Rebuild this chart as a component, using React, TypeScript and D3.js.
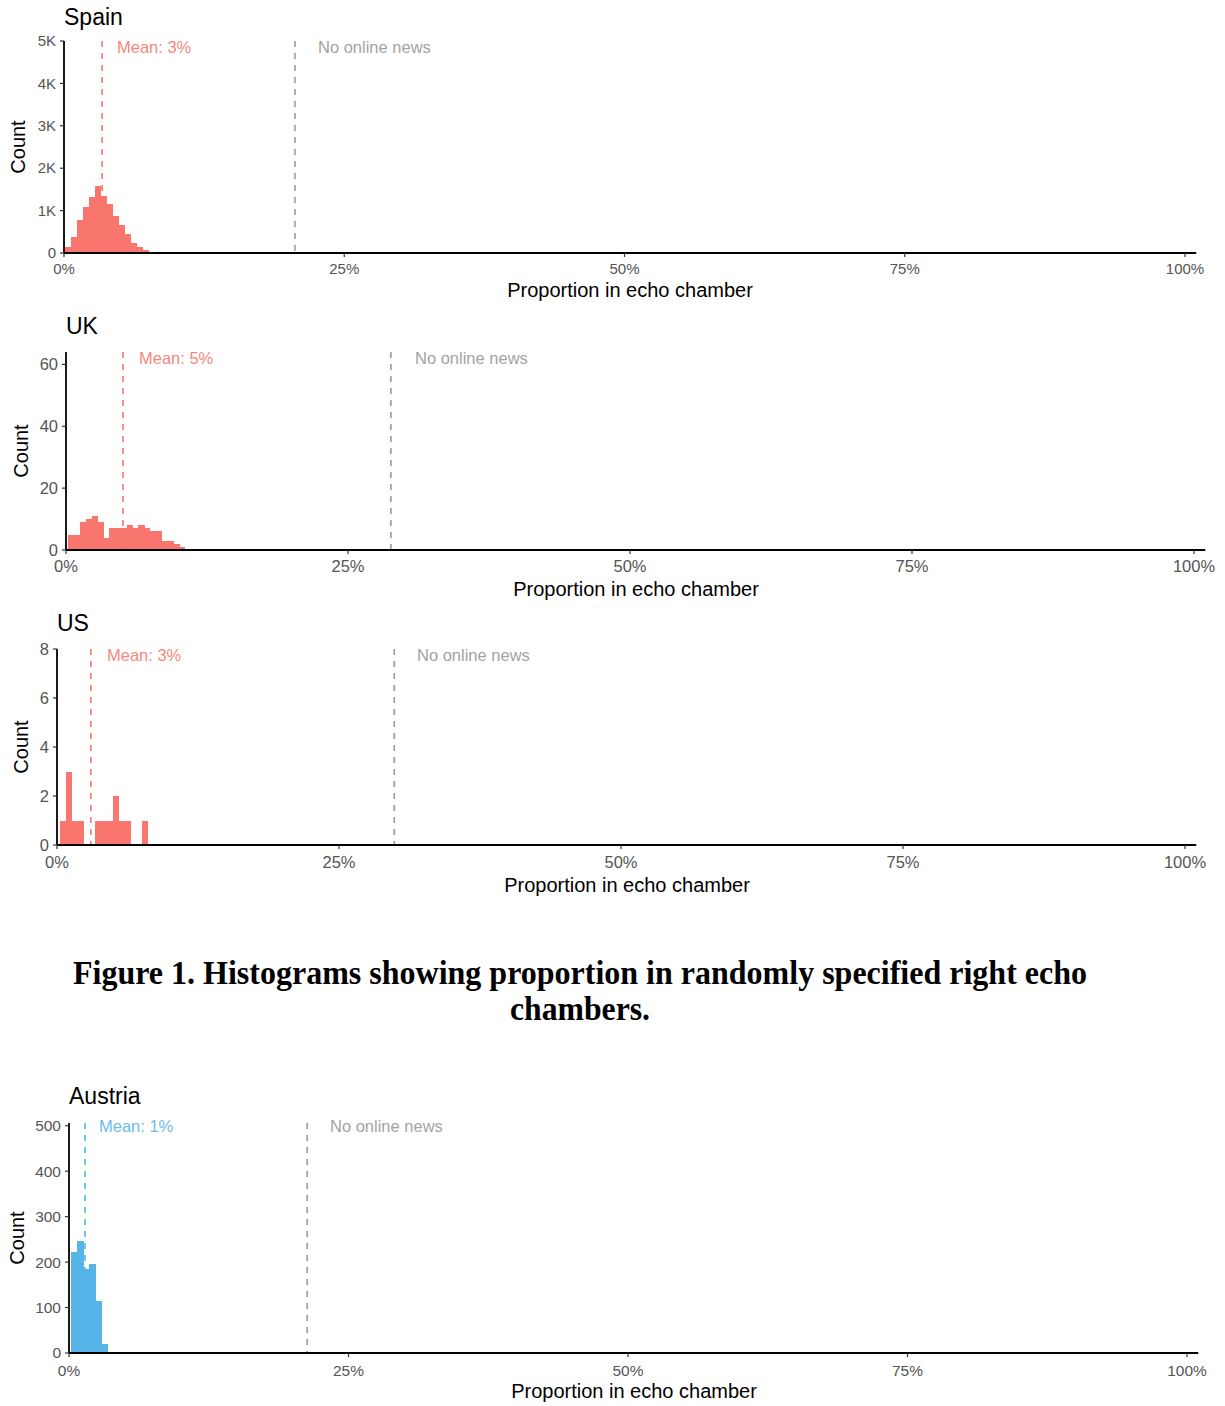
import React from "react";
import * as d3 from "d3";

// ---------- data ----------
const COUNTRIES = ["Spain", "UK", "US", "Austria"];
const BIN_STARTS = [0.1, 0.2, 0.25, 0.2]; // % where first bin starts
const BIN_WIDTHS = [0.53, 0.518, 0.52, 0.54]; // % bin width
const SPAIN_COUNTS = [140, 375, 780, 1090, 1310, 1580, 1340, 1160, 875, 660, 450, 230, 140, 60, 30, 10];
const UK_COUNTS = [5, 5, 9, 10, 11, 9, 4, 7, 7, 7, 8, 7, 8, 7, 6, 6, 3, 3, 2, 1];
const US_COUNTS = [1, 3, 1, 1, 0, 0, 1, 1, 1, 2, 1, 1, 0, 0, 1];
const AUSTRIA_COUNTS = [223, 247, 184, 196, 114, 20];
const COUNTS = [SPAIN_COUNTS, UK_COUNTS, US_COUNTS, AUSTRIA_COUNTS];
const MEANS = [3.4, 5.05, 3.0, 1.43];
const MEAN_LABELS = ["Mean: 3%", "Mean: 5%", "Mean: 3%", "Mean: 1%"];
const NO_NEWS = [20.6, 28.8, 29.9, 21.3];
const Y_MAX = [5000, 64, 8, 506];
const Y_TICKS = [
  [0, 1000, 2000, 3000, 4000, 5000],
  [0, 20, 40, 60],
  [0, 2, 4, 6, 8],
  [0, 100, 200, 300, 400, 500],
];
const X_TICKS = [0, 25, 50, 75, 100];
const NO_NEWS_LABEL = "No online news";
const X_TITLE = "Proportion in echo chamber";
const Y_TITLE = "Count";
const CAPTION_1 = "Figure 1. Histograms showing proportion in randomly specified right echo";
const CAPTION_2 = "chambers.";

// ---------- layout ----------
const LAYOUT = [
  { x0: 64, x100: 1185, yBase: 253, yTop: 41, titleY: 25, countX: 18, tickY: 274, xTitleX: 630, xTitleY: 297, meanX: 117, noX: 318, labelY: 53, tickFs: 15 },
  { x0: 66, x100: 1194, yBase: 550, yTop: 352, titleY: 334, countX: 21, tickY: 572, xTitleX: 636, xTitleY: 596, meanX: 139, noX: 415, labelY: 364, tickFs: 16.5 },
  { x0: 57, x100: 1185, yBase: 845, yTop: 649, titleY: 631, countX: 21, tickY: 868, xTitleX: 627, xTitleY: 892, meanX: 107, noX: 417, labelY: 661, tickFs: 16.5 },
  { x0: 69, x100: 1187, yBase: 1353, yTop: 1123, titleY: 1104, countX: 17, tickY: 1376, xTitleX: 634, xTitleY: 1398, meanX: 99, noX: 330, labelY: 1132, tickFs: 15.5 },
];
const COLORS = ["#F8766D", "#F8766D", "#F8766D", "#56B4E9"];
const FONT = "'Liberation Sans', Arial, sans-serif";

function fmtY(i: number, v: number) {
  if (i === 0) return v === 0 ? "0" : `${v / 1000}K`;
  return `${v}`;
}

function Panel({ i }: { i: number }) {
  const L = LAYOUT[i];
  const x = d3.scaleLinear().domain([0, 100]).range([L.x0, L.x100]);
  const y = d3.scaleLinear().domain([0, Y_MAX[i]]).range([L.yBase, L.yTop]);
  const color = COLORS[i];
  const counts = COUNTS[i];
  const bins = counts.map((c, k) => ({
    a: BIN_STARTS[i] + k * BIN_WIDTHS[i],
    b: BIN_STARTS[i] + (k + 1) * BIN_WIDTHS[i],
    c,
  }));
  const midY = (L.yBase + L.yTop) / 2;
  return (
    <g>
      <text x={L.x0} y={L.titleY} fontFamily={FONT} fontSize={23} fill="#000">
        {COUNTRIES[i]}
      </text>
      {bins
        .filter((d) => d.c > 0)
        .map((d, k) => (
          <rect
            key={k}
            x={x(d.a)}
            width={x(d.b) - x(d.a) + 0.3}
            y={y(d.c)}
            height={L.yBase - y(d.c)}
            fill={color}
            shapeRendering="crispEdges"
          />
        ))}
      <line x1={x(MEANS[i])} x2={x(MEANS[i])} y1={L.yTop} y2={L.yBase} stroke={color} strokeWidth={1.6} strokeDasharray="6,6" />
      <line x1={x(NO_NEWS[i])} x2={x(NO_NEWS[i])} y1={L.yTop} y2={L.yBase} stroke="#9a9a9a" strokeWidth={1.6} strokeDasharray="6,6" />
      <text x={L.meanX} y={L.labelY} fontFamily={FONT} fontSize={16.5} fill={color} fillOpacity={0.9}>
        {MEAN_LABELS[i]}
      </text>
      <text x={L.noX} y={L.labelY} fontFamily={FONT} fontSize={16.5} fill="#a3a3a3">
        {NO_NEWS_LABEL}
      </text>
      {/* axes */}
      <line x1={L.x0} x2={L.x0} y1={L.yTop} y2={L.yBase} stroke="#000" strokeWidth={1.8} />
      <line x1={L.x0} x2={x(101)} y1={L.yBase} y2={L.yBase} stroke="#000" strokeWidth={1.8} />
      {Y_TICKS[i].map((t) => (
        <g key={t}>
          <line x1={L.x0 - 4} x2={L.x0} y1={y(t)} y2={y(t)} stroke="#333" strokeWidth={1.2} />
          <text x={L.x0 - 8} y={y(t)} dy="0.35em" textAnchor="end" fontFamily={FONT} fontSize={L.tickFs} fill="#555">
            {fmtY(i, t)}
          </text>
        </g>
      ))}
      {X_TICKS.map((t) => (
        <g key={t}>
          <line x1={x(t)} x2={x(t)} y1={L.yBase} y2={L.yBase + 4} stroke="#333" strokeWidth={1.2} />
          <text x={x(t)} y={L.tickY} textAnchor="middle" fontFamily={FONT} fontSize={L.tickFs} fill="#555">
            {`${t}%`}
          </text>
        </g>
      ))}
      <text x={L.xTitleX} y={L.xTitleY} textAnchor="middle" fontFamily={FONT} fontSize={20} fill="#000">
        {X_TITLE}
      </text>
      <text
        transform={`translate(${L.countX + 7},${midY}) rotate(-90)`}
        textAnchor="middle"
        fontFamily={FONT}
        fontSize={20}
        fill="#000"
      >
        {Y_TITLE}
      </text>
    </g>
  );
}

export default function App() {
  return (
    <svg
      width={1225}
      height={1406}
      style={{ position: "absolute", left: 0, top: 0, background: "#fff" }}
    >
      <rect x={0} y={0} width={1225} height={1406} fill="#fff" />
      {COUNTRIES.map((_, i) => (
        <Panel key={i} i={i} />
      ))}
      <text
        x={580}
        y={984}
        textAnchor="middle"
        fontFamily="'Liberation Serif', 'Times New Roman', serif"
        fontWeight="bold"
        fontSize={33}
        textLength={1014}
        lengthAdjust="spacingAndGlyphs"
        fill="#000"
      >
        {CAPTION_1}
      </text>
      <text
        x={580}
        y={1020}
        textAnchor="middle"
        fontFamily="'Liberation Serif', 'Times New Roman', serif"
        fontWeight="bold"
        fontSize={33}
        textLength={140}
        lengthAdjust="spacingAndGlyphs"
        fill="#000"
      >
        {CAPTION_2}
      </text>
    </svg>
  );
}
